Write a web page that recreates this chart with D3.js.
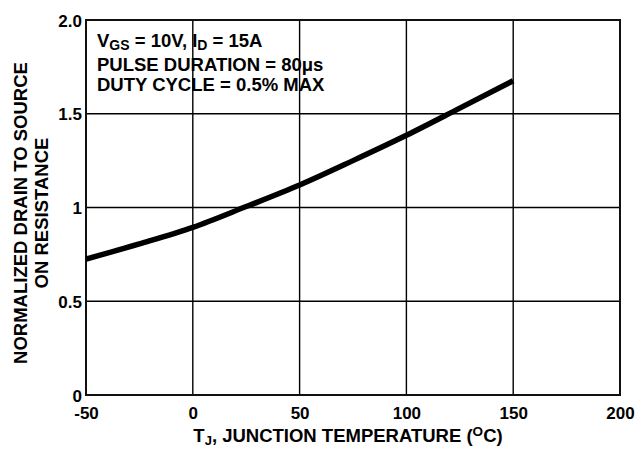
<!DOCTYPE html>
<html>
<head>
<meta charset="utf-8">
<script src="https://cdn.jsdelivr.net/npm/d3@7"></script>
<style>
html,body{margin:0;padding:0;background:#fff;}
svg{display:block;font-family:"Liberation Sans",Arial,Helvetica,sans-serif;font-weight:bold;}
</style>
</head>
<body>
<svg id="chart" width="638" height="449"></svg>
<script>
// Data
const temperatures = [-50, -25, 0, 25, 50, 75, 100, 125, 150];
const resistance   = [0.725, 0.806, 0.894, 1.005, 1.12, 1.25, 1.385, 1.53, 1.676];
const xTicks = [-50, 0, 50, 100, 150, 200];
const xTickLabels = ["-50", "0", "50", "100", "150", "200"];
const yTicks = [0, 0.5, 1, 1.5, 2.0];
const yTickLabels = ["0", "0.5", "1", "1.5", "2.0"];

(function () {
const svg = d3.select("#chart");
const pLeft = 86, pRight = 620, pTop = 20, pBottom = 395;

const x = d3.scaleLinear().domain([-50, 200]).range([pLeft, pRight]);
const y = d3.scaleLinear().domain([0, 2]).range([pBottom, pTop]);

// gridlines
svg.append("g").selectAll("line").data(xTicks).join("line")
  .attr("x1", d => x(d)).attr("x2", d => x(d))
  .attr("y1", pTop).attr("y2", pBottom)
  .attr("stroke", "#000").attr("stroke-width", 1.4);
svg.append("g").selectAll("line").data(yTicks).join("line")
  .attr("x1", pLeft).attr("x2", pRight)
  .attr("y1", d => y(d)).attr("y2", d => y(d))
  .attr("stroke", "#000").attr("stroke-width", 1.4);

// border
svg.append("rect").attr("x", pLeft).attr("y", pTop)
  .attr("width", pRight - pLeft).attr("height", pBottom - pTop)
  .attr("fill", "none").attr("stroke", "#111").attr("stroke-width", 2);

// x tick labels
const xAxis = d3.axisBottom(x).tickValues(xTicks).tickSize(0).tickPadding(0)
  .tickFormat((d, i) => xTickLabels[i]);
const gx = svg.append("g").attr("transform", `translate(0,${pBottom})`).call(xAxis);
gx.select(".domain").remove();
gx.attr("font-family", null).attr("font-size", null);
gx.selectAll("text").attr("fill", "#000").attr("font-size", 17)
  .attr("dy", null).attr("y", 24);

// y tick labels
const yAxis = d3.axisLeft(y).tickValues(yTicks).tickSize(0).tickPadding(0)
  .tickFormat((d, i) => yTickLabels[i]);
const gy = svg.append("g").attr("transform", `translate(${pLeft - 4},0)`).call(yAxis);
gy.select(".domain").remove();
gy.attr("font-family", null).attr("font-size", null);
gy.selectAll("text").attr("fill", "#000").attr("font-size", 17)
  .attr("dy", "0.36em");

// curve
const line = d3.line().x((d, i) => x(temperatures[i])).y(d => y(d)).curve(d3.curveMonotoneX);
svg.append("path").datum(resistance).attr("d", line)
  .attr("fill", "none").attr("stroke", "#000").attr("stroke-width", 5.5)
  .attr("stroke-linecap", "butt");

// annotation
const ann = svg.append("g").attr("font-size", 18.5).attr("fill", "#000");
const l1 = ann.append("text").attr("x", 97).attr("y", 47);
l1.append("tspan").text("V");
l1.append("tspan").attr("font-size", 14).attr("dy", 3).text("GS");
l1.append("tspan").attr("dy", -3).text(" = 10V, I");
l1.append("tspan").attr("font-size", 14).attr("dy", 3).text("D");
l1.append("tspan").attr("dy", -3).text(" = 15A");
ann.append("text").attr("x", 97).attr("y", 71).text("PULSE DURATION = 80\u03BCs");
ann.append("text").attr("x", 97).attr("y", 91).text("DUTY CYCLE = 0.5% MAX");

// x title
const xt = svg.append("text").attr("x", 348).attr("y", 442).attr("text-anchor", "middle")
  .attr("font-size", 18.5).attr("fill", "#000");
xt.append("tspan").text("T");
xt.append("tspan").attr("font-size", 13).attr("dy", 3).text("J");
xt.append("tspan").attr("dy", -3).text(", JUNCTION TEMPERATURE (");
xt.append("tspan").attr("font-size", 13.5).attr("dy", -6).text("O");
xt.append("tspan").attr("dy", 6).text("C)");

// y title
const yt = svg.append("text").attr("transform", "translate(0,213) rotate(-90)")
  .attr("text-anchor", "middle").attr("font-size", 18.5).attr("fill", "#000");
yt.append("tspan").attr("x", 0).attr("y", 27).text("NORMALIZED DRAIN TO SOURCE");
yt.append("tspan").attr("x", 0).attr("y", 48).text("ON RESISTANCE");
})();
</script>
</body>
</html>
